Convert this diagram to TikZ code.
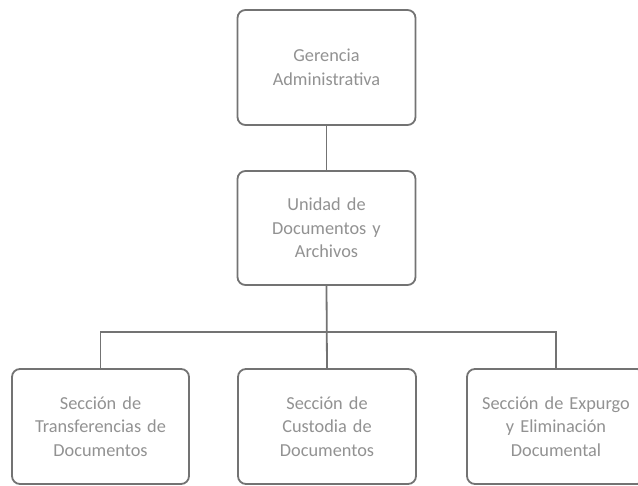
\documentclass[tikz,border=0pt]{standalone}
\usepackage{fontspec}
\setmainfont{Carlito}
\definecolor{linegray}{HTML}{737373}
\definecolor{textgray}{HTML}{929292}
\begin{document}
\begin{tikzpicture}[x=1pt,y=-1pt,
  orgbox/.style={draw=linegray, line width=1.8pt, rounded corners=8pt, fill=white,
    text=textgray, align=center, font=\fontsize{18.3}{23.5}\selectfont,
    minimum width=178pt, minimum height=115pt, inner sep=0pt, text width=172pt},
  link/.style={draw=linegray, line width=1.8pt}]
\clip (0,0) rectangle (638,486);
\useasboundingbox (0,0) rectangle (638,486);
\node[orgbox, minimum height=115pt] (ger) at (326.5,67.5) {Gerencia\\Administrativa};
\node[orgbox, minimum height=114pt] (uni) at (326.5,228) {Unidad de\\Documentos y\\Archivos};
\node[orgbox, minimum width=177pt] (tra) at (100.5,426.5) {Sección de\\Transferencias de\\Documentos};
\node[orgbox] (cus) at (327,426.5) {Sección de\\Custodia de\\Documentos};
\node[orgbox] (exp) at (556,426.5) {Sección de Expurgo\\y Eliminación\\Documental};
\coordinate (hl) at (100.5,332);
\coordinate (hr) at (556,332);
\draw[link] (ger.south) -- (uni.north);
\draw[link] (uni.south) -- (cus.north);
\draw[link] (tra.north) -- (hl) -- (hr) -- (exp.north);
\end{tikzpicture}
\end{document}
